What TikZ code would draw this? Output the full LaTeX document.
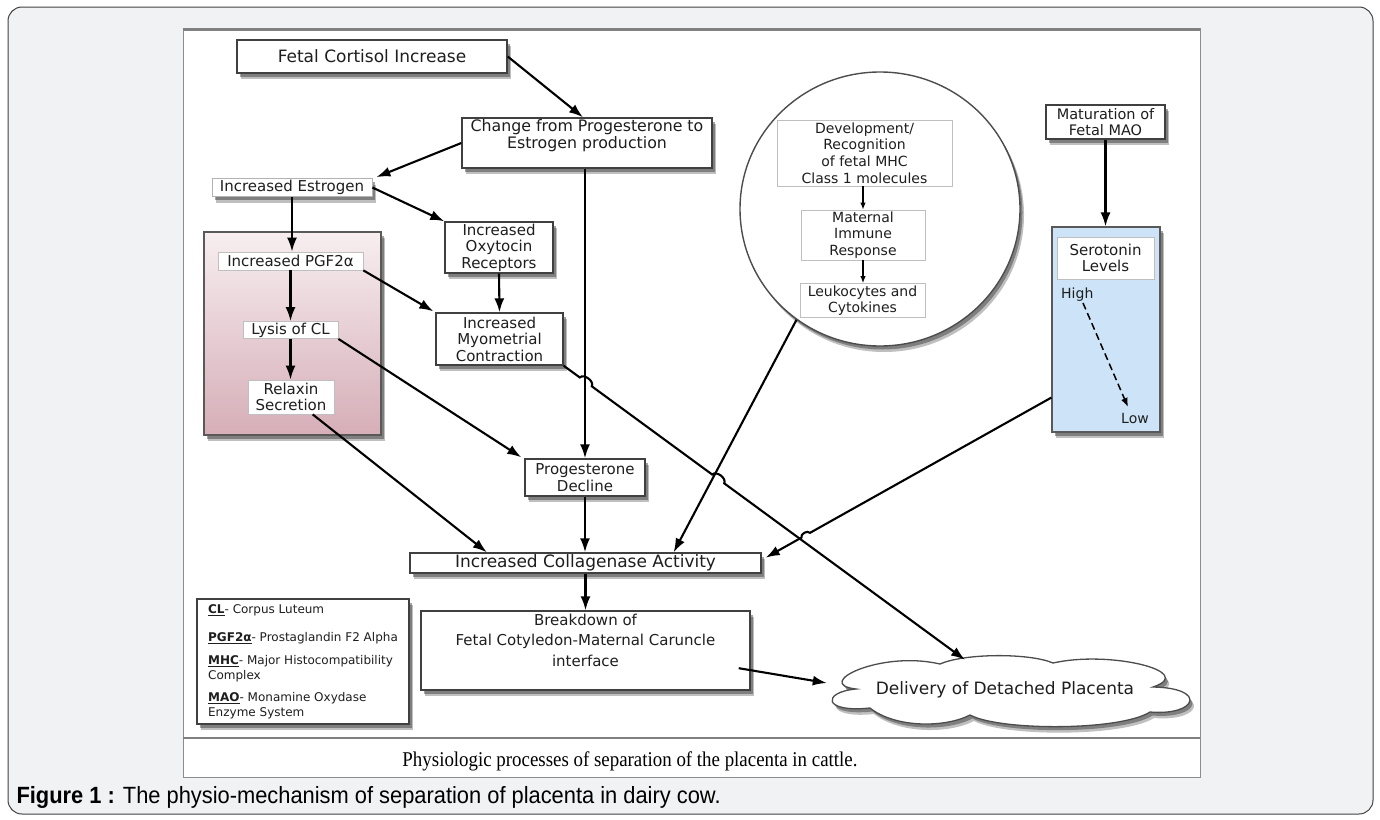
\documentclass[tikz,border=0pt]{standalone}
\usepackage{fontspec}
\setmainfont{DejaVu Sans}
\newfontfamily\capserif[FakeStretch=0.9]{Liberation Serif}
\newfontfamily\capsans[FakeStretch=0.93]{Liberation Sans}
\usetikzlibrary{arrows.meta,shapes.geometric,calc,shadows}
\definecolor{pagebg}{HTML}{F1F2F4}
\definecolor{pinktop}{HTML}{F7EEF0}
\definecolor{pinkbot}{HTML}{D6AEB8}
\definecolor{bluefill}{HTML}{CDE3F8}
\definecolor{txt}{HTML}{1E1E1E}
\begin{document}
\begin{tikzpicture}[x=1pt,y=-1pt,
  every node/.style={font=\fontsize{15}{16.5}\selectfont, text=txt},
  arr/.style={line width=2.1pt, -{Latex[length=14pt,width=10pt]}},
  thinarr/.style={line width=1.2pt, -{Latex[length=7pt,width=5.5pt]}},
  shad/.style={drop shadow={shadow xshift=4pt, shadow yshift=-6pt, opacity=0.25, fill=black},
               drop shadow={shadow xshift=2.5pt, shadow yshift=-3.5pt, opacity=0.45, fill=black!80}},
  mainbox/.style={draw=black!75, line width=1.4pt, fill=white, inner sep=0pt, align=center, shad},
  subbox/.style={draw=black!25, line width=0.8pt, fill=white, inner sep=0pt, align=center},
  txtnode/.style={inner sep=0pt, align=center},
]
\useasboundingbox (0,0) rectangle (1380,819);
% page frame
\draw[fill=pagebg, draw=black!75, line width=1pt, rounded corners=14pt] (8,7) rectangle (1373,814);
% inner picture
\draw[fill=white, draw=black!45, line width=1pt] (183,28) rectangle (1200,777);
\draw[black!50, line width=2.5pt] (183,29.5) -- (1200,29.5);
\draw[black!50, line width=2.5pt] (183,738) -- (1200,738);

% nodes
\node[mainbox, minimum width=270pt, minimum height=33pt, font=\fontsize{17}{19}\selectfont] (cort) at (372,56.5) {Fetal Cortisol Increase};
\node[mainbox, minimum width=250pt, minimum height=50pt] (change) at (587,143) {};
\node[txtnode, font=\fontsize{15.8}{17}\selectfont] (changetxt) at (587,136) {Change from Progesterone to\\Estrogen production};
\node[mainbox, draw=black!30, line width=0.8pt, minimum width=160pt, minimum height=18pt] (estr) at (292,187.5) {Increased Estrogen};

\node[draw=black!65, line width=1.2pt, minimum width=177pt, minimum height=203pt, top color=pinktop, bottom color=pinkbot, shad] (pink) at (292.5,333.5) {};
\node[subbox, minimum width=145pt, minimum height=18pt] (pgf) at (290.5,261) {Increased PGF2α};
\node[subbox, minimum width=95pt, minimum height=17pt] (lysis) at (290.5,330) {Lysis of CL};
\node[subbox, minimum width=86pt, minimum height=34pt] (relax) at (291,397) {Relaxin\\Secretion};

\node[mainbox, minimum width=108pt, minimum height=51pt] (oxy) at (499,247.5) {Increased\\Oxytocin\\Receptors};
\node[mainbox, minimum width=127pt, minimum height=52pt] (myo) at (499.5,339) {Increased\\Myometrial\\Contraction};
\node[mainbox, minimum width=120pt, minimum height=37pt] (pdec) at (585,477.5) {Progesterone\\Decline};
\node[mainbox, minimum width=351pt, minimum height=20pt, font=\fontsize{17}{19}\selectfont] (coll) at (585.5,563) {Increased Collagenase Activity};
\node[mainbox, minimum width=329pt, minimum height=79pt] (brk) at (585.5,650.5) {};
\node[txtnode, font=\fontsize{15}{20.5}\selectfont] (brktxt) at (585.5,640) {Breakdown of\\Fetal Cotyledon-Maternal Caruncle\\interface};

% circle
\node[ellipse, draw=black!70, line width=1.4pt, minimum width=280pt, minimum height=274pt, fill=white, shad] (circ) at (880,209) {};
\node[subbox, minimum width=175pt, minimum height=66pt, font=\fontsize{14}{16.7}\selectfont] (dev) at (864.5,153) {Development/\\Recognition\\of fetal MHC\\Class 1 molecules};
\node[subbox, minimum width=124pt, minimum height=50pt, font=\fontsize{14}{16.7}\selectfont] (mat) at (863,235) {Maternal\\Immune\\Response};
\node[subbox, minimum width=125pt, minimum height=34pt, font=\fontsize{14}{16.7}\selectfont] (leuk) at (862.5,300.5) {Leukocytes and\\Cytokines};

% right column
\node[mainbox, minimum width=119pt, minimum height=34pt, font=\fontsize{14.5}{16.5}\selectfont] (mao) at (1105.5,122) {Maturation of\\Fetal MAO};
\node[draw=black!65, line width=1.2pt, fill=bluefill, minimum width=108pt, minimum height=205pt, shad] (blue) at (1106,329.5) {};
\node[subbox, minimum width=97pt, minimum height=42pt] (sero) at (1105.5,258) {Serotonin\\Levels};
\node[anchor=west, inner sep=0pt, font=\fontsize{14}{16}\selectfont] (high) at (1061,295) {High};
\node[anchor=east, inner sep=0pt, font=\fontsize{14}{16}\selectfont] (low) at (1149,418) {Low};
\coordinate (dA) at (1083,303);
\coordinate (dB) at (1128,407);

% cloud outline
\path[draw=black!70, line width=1.3pt, fill=white, shad]
  (856,689) .. controls (812,684) and (880,650) .. (940,664)
  .. controls (965,653) and (1030,653) .. (1053,663)
  .. controls (1110,650) and (1198,672) .. (1153,687)
  .. controls (1208,688) and (1197,716) .. (1150,712)
  .. controls (1120,731) and (1000,731) .. (970,715)
  .. controls (945,728) and (895,728) .. (870,708)
  .. controls (822,713) and (822,692) .. cycle;
\node[inner sep=0pt, minimum width=360pt, minimum height=60pt, font=\fontsize{17}{19}\selectfont] (cloud) at (1005,690) {Delivery of Detached Placenta};

% legend
\node[mainbox, minimum width=212pt, minimum height=125pt, align=left, font=\fontsize{12}{15}\selectfont] (legend) at (303,661.5) {%
\underline{\textbf{CL}}- Corpus Luteum\\[13pt]
\underline{\textbf{PGF2α}}- Prostaglandin F2 Alpha\\[8pt]
\underline{\textbf{MHC}}- Major Histocompatibility\\
Complex\\[7pt]
\underline{\textbf{MAO}}- Monamine Oxydase\\
Enzyme System};

% captions
\node[font=\capserif\fontsize{21}{23}\selectfont, text=black] (cap1) at (630,761) {Physiologic processes of separation of the placenta in cattle.};
\node[anchor=west, font=\capsans\fontsize{23.5}{25}\selectfont, text=black] (cap2) at (13,797) {\textbf{Figure 1 :} The physio-mechanism of separation of placenta in dairy cow.};

% connectors
\draw[arr] (cort.east) -- ($(change.north)+(-4,0)$);
\draw[arr] (change.west) -- ($(estr.north east)+(4,-1)$);
\draw[arr] (estr.east) -- (oxy.north west);
\draw[arr] (estr.south) -- (estr.south |- pgf.north);
\draw[arr] (pgf.south) -- (lysis.north);
\draw[arr] (lysis.south) -- (lysis.south |- relax.north);
\draw[arr] (pgf.south east) -- ($(myo.north west)+(-2,-1)$);
\draw[arr] (oxy.south) -- (myo.north);
\draw[arr] (lysis.south east) -- ($(pdec.north west)+(-3,-1)$);
\draw[arr] ($(relax.south)!0.5!(relax.south east)$) -- ($(coll.north west)!0.22!(coll.north east)$);
\draw[arr] (pdec.north |- change.south) -- (pdec.north);
\draw[arr] (pdec.south) -- (pdec.south |- coll.north);
\draw[arr] (coll.south) -- (coll.south |- brk.north);
\draw[thinarr] (dev.south -| mat.north) -- (mat.north);
\draw[thinarr] (mat.south) -- (mat.south |- leuk.north);
\draw[arr] (circ.233) -- ($(coll.north west)!0.75!(coll.north east)$);
\draw[arr] (mao.south) -- (mao.south |- blue.north);
\draw[line width=1.5pt, dash pattern=on 7pt off 4pt, -{Latex[length=9pt,width=7pt]}] (dA) -- (dB);
% blue to collagenase with jump
\coordinate (bS) at ($(blue.south west)!0.17!(blue.north west)$);
\coordinate (bE) at ($(coll.north east)!0.25!(coll.south east)+(4,0)$);
\draw[arr] (bS) -- ($(bS)!0.845!(bE)$) to[bend right=80] ($(bS)!0.875!(bE)$) -- (bE);
% myometrial to cloud with jumps
\coordinate (mS) at (myo.south east);
\coordinate (mE) at ($(cloud.north)+(-40,0)$);
\draw[arr] (mS) -- ($(mS)!0.04!(mE)$) to[bend left=80] ($(mS)!0.07!(mE)$) -- ($(mS)!0.37!(mE)$) to[bend left=80] ($(mS)!0.40!(mE)$) -- (mE);
\draw[arr] ($(brk.north east)!0.72!(brk.south east)+(-12,0)$) -- ($(cloud.west)+(2,-7)$);
\end{tikzpicture}
\end{document}
